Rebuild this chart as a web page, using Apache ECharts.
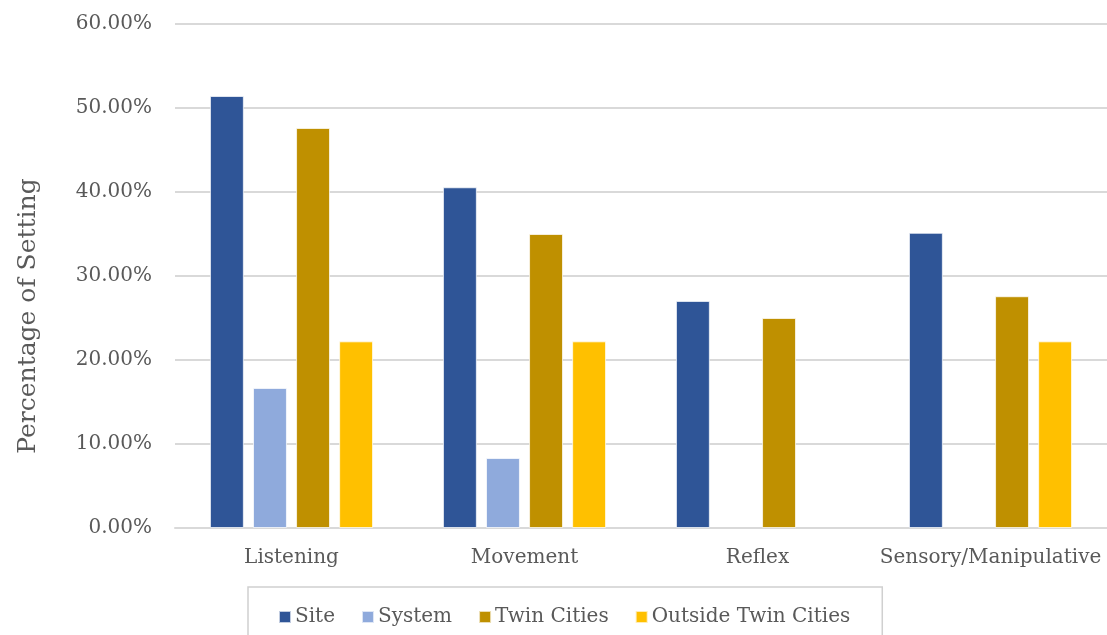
<!DOCTYPE html>
<html>
<head>
<meta charset="utf-8">
<script src="https://cdn.jsdelivr.net/npm/echarts@6/dist/echarts.min.js"></script>
<style>html,body{margin:0;padding:0;background:#fff;}#c{width:1107px;height:635px;}</style>
</head>
<body>
<div id="c"></div>
<script>
const categories = ['Listening', 'Movement', 'Reflex', 'Sensory/Manipulative'];
const seriesNames = ['Site', 'System', 'Twin Cities', 'Outside Twin Cities'];
const site = [51.43, 40.56, 27.03, 35.14];
const system = [16.67, 8.33, 0, 0];
const twinCities = [47.62, 35.0, 25.0, 27.59];
const outsideTwinCities = [22.22, 22.22, 0, 22.22];
const yTicks = [0, 10, 20, 30, 40, 50, 60];
const yTitle = 'Percentage of Setting';
const colors = ['#2F5597', '#8FAADC', '#BF9000', '#FFC000'];

const FONT = 'DejaVu Serif';
const values = [site, system, twinCities, outsideTwinCities];

const chart = echarts.init(document.getElementById('c'), null, {renderer: 'canvas'});
chart.setOption({
  animation: false,
  backgroundColor: '#ffffff',
  textStyle: {fontFamily: FONT},
  grid: {left: 175, right: 0, top: 24, bottom: 107, containLabel: false, outerBoundsMode: 'none'},
  graphic: [{
    type: 'text',
    x: 28,
    y: 316,
    rotation: Math.PI / 2,
    style: {text: yTitle, font: '25px "DejaVu Serif"', fill: '#595959', align: 'center', verticalAlign: 'middle'}
  }],
  legend: {
    data: seriesNames.map(n => ({name: n, icon: 'rect'})),
    left: 248,
    top: 587,
    padding: [20, 32, 40, 30],
    itemWidth: 12,
    itemHeight: 12,
    itemGap: 26,
    borderColor: '#d0d0d0',
    borderWidth: 1.5,
    formatter: name => '{t|' + name + '}',
    textStyle: {fontFamily: FONT, fontSize: 20, color: '#595959',
      rich: {t: {fontFamily: FONT, fontSize: 20, color: '#595959', padding: [0, 0, 0, -1]}}}
  },
  xAxis: {
    type: 'category',
    data: categories,
    axisLine: {show: true, lineStyle: {color: '#d9d9d9', width: 2}},
    axisTick: {show: false},
    axisLabel: {fontFamily: FONT, fontSize: 20, color: '#595959', margin: 20, interval: 0, hideOverlap: false}
  },
  yAxis: {
    type: 'value',
    min: yTicks[0],
    max: yTicks[yTicks.length - 1],
    interval: 10,
    axisLine: {show: false},
    axisTick: {show: false},
    splitLine: {lineStyle: {color: '#d9d9d9', width: 2}},
    axisLabel: {fontFamily: FONT, fontSize: 20, color: '#595959', margin: 23,
      formatter: v => v.toFixed(2) + '%'}
  },
  series: seriesNames.map((n, i) => ({
    name: n,
    type: 'bar',
    data: values[i].map(v => v === 0 ? null : v),
    barGap: '27%',
    barCategoryGap: '30%',
    itemStyle: {color: colors[i], borderColor: 'rgba(255,255,255,0.7)', borderWidth: 1}
  }))
});
</script>
</body>
</html>
